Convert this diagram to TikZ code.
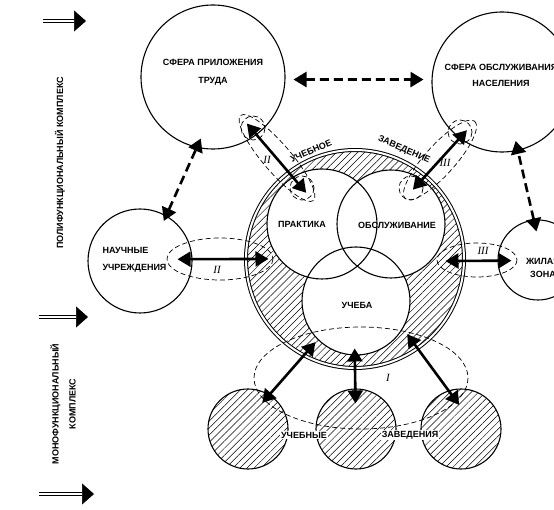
\documentclass[tikz,border=0pt]{standalone}
\usepackage{fontspec}
\setmainfont{Liberation Sans}
\newfontfamily\romfont{Liberation Serif}
\usetikzlibrary{arrows.meta,patterns.meta}

\begin{document}
\begin{tikzpicture}[
    x=1pt, y=-1pt,
    font=\fontsize{9}{10}\selectfont\bfseries,
    zone/.style={circle, draw, line width=1.1pt, inner sep=0pt},
    hatch/.style={pattern={Lines[angle=45, distance=5pt, line width=0.5pt]}},
    link/.style={line width=2.6pt, >={Triangle[length=13pt,width=15pt]}, <->},
    dashlink/.style={link, dash pattern=on 9pt off 5pt},
    group/.style={line width=0.7pt, dash pattern=on 5pt off 3pt},
    entry/.style={double, double distance=2pt, line width=0.7pt, -{Triangle[length=12pt,width=21pt]}},
    numeral/.style={font=\fontsize{11}{11}\selectfont\romfont\itshape},
]
\useasboundingbox (0,0) rectangle (554,510);
\clip (0,0) rectangle (554,510);

% Side marks
\foreach \y/\a/\b in {21/43/86, 317/39/88, 494/39/94}
  \draw[entry] (\a,\y) -- (\b,\y);
\node[rotate=90] (poly-t) at (60,163) {ПОЛИФУНКЦИОНАЛЬНЫЙ КОМПЛЕКС};
\node[rotate=90, align=center] (mono-t) at (63,404) {МОНОФУНКЦИОНАЛЬНЫЙ\\[7pt]КОМПЛЕКС};

% Educational institution (ring)
\node[zone, hatch, double, double distance=2pt, line width=1pt, minimum size=218] (vuz) at (355,259) {};
\foreach \p/\r in {{322,224}/55, {391,224}/54, {356,301}/54}
  \fill[white] (\p) circle (\r);
\node[zone, minimum size=110] (praktika) at (322,224) {};
\node[zone, minimum size=108] (obsl) at (391,224) {};
\node[zone, minimum size=108] (ucheba) at (356,301) {};
\node (praktika-t) at (302,224) {ПРАКТИКА};
\node (obsl-t) at (397,225) {ОБСЛУЖИВАНИЕ};
\node (ucheba-t) at (357,305) {УЧЕБА};
\node[rotate=23] (uch-t) at (311,151) {УЧЕБНОЕ};
\node[rotate=-24] (zav-t) at (404,150) {ЗАВЕДЕНИЕ};

% Polyfunctional zones
\node[zone, minimum size=144] (trud) at (213,77) {};
\node[align=center] (trud-t) at (213,72) {СФЕРА ПРИЛОЖЕНИЯ\\[8pt]ТРУДА};
\node[zone, minimum size=140] (naselenie) at (502,82) {};
\node[align=center] (naselenie-t) at (501,75) {СФЕРА ОБСЛУЖИВАНИЯ\\[6pt]НАСЕЛЕНИЯ};
\node[zone, minimum size=104] (nauka) at (140,261) {};
\node[align=left, anchor=west] (nauka-t) at (99,260) {НАУЧНЫЕ\\[7pt]УЧРЕЖДЕНИЯ};
\node[zone, minimum size=80] (zhila) at (538,260) {};
\node[align=center] (zhila-t) at (543,268) {ЖИЛАЯ\\[3pt]ЗОНА};

% Monofunctional schools
\foreach \name/\x in {uzl/248, uzm/356, uzr/461}
  \node[zone, hatch, minimum size=80] (\name) at (\x,429) {};

% Groups of links
\draw[group] (361,378) ellipse (107 and 51);
\draw[group] (220,259) ellipse (53 and 21);
\draw[group] (477,260) ellipse (40 and 17);
\draw[group, rotate around={-49.4:(277,158)}] (277,158) ellipse (56 and 14);
\draw[group, rotate around={48:(440,160)}] (440,160) ellipse (52 and 15);
\foreach \p in {{253,128}, {302,188}, {460,132}, {411,188}}
  \draw[group] (\p) circle (12);

% Links
\draw[dashlink, shorten <=8pt, shorten >=8pt] (trud.358) -- (naselenie.178);
\draw[dashlink, shorten <=-6pt, shorten >=-10pt] (nauka.60) -- (trud.257);
\draw[dashlink, shorten <=-12pt, shorten >=-10pt] (zhila.96) -- (naselenie.283);
\draw[link, shorten <=-15pt, shorten >=-21pt] (trud.307) -- (praktika.122);
\draw[link, shorten <=-11pt, shorten >=-14pt] (naselenie.233) -- (obsl.55);
\draw[link, shorten <=-15pt, shorten >=-23pt] (nauka.2) -- (vuz.180);
\draw[link, shorten <=-19pt, shorten >=-14pt] (vuz.359) -- (zhila.181);
\draw[link, shorten <=-11pt, shorten >=-18pt] (uzl.58) -- (vuz.242);
\draw[link, shorten <=-15pt, shorten >=-20pt] (uzm.91) -- (vuz.270);
\draw[link, shorten <=-18pt, shorten >=-18pt] (uzr.108) -- (vuz.305);

% Labels
\node[numeral] (n2a) at (267,160) {II};
\node[numeral] (n3a) at (445,163) {III};
\node[numeral] (n2b) at (217,270) {II};
\node[numeral] (n3b) at (483,251) {III};
\node[numeral] (n1) at (388,378) {I};
\node[fill=white, inner sep=1pt] (uz-t1) at (304,435) {УЧЕБНЫЕ};
\node[fill=white, inner sep=1pt] (uz-t2) at (410,435) {ЗАВЕДЕНИЯ};

\end{tikzpicture}
\end{document}
